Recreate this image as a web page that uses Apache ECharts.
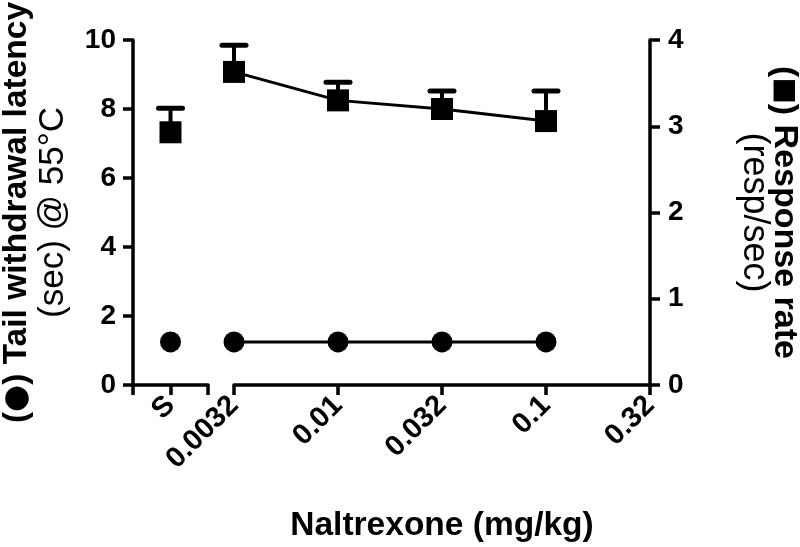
<!DOCTYPE html>
<html>
<head>
<meta charset="utf-8">
<script src="https://cdn.jsdelivr.net/npm/echarts@6/dist/echarts.min.js"></script>
<style>
html,body{margin:0;padding:0;background:#fff;}
#chart{width:800px;height:547px;}
</style>
</head>
<body>
<div id="chart"></div>
<script>
// ---- data ----
const salineCategories = ['', 'S', ''];
const doseLabels = ['0.0032', '0.01', '0.032', '0.1', '0.32'];
const salineRate = 2.93;
const salineRateErr = 0.28;
const salineLatency = 1.25;
const doseRate = [3.63, 3.30, 3.20, 3.06];
const doseRateErr = [0.31, 0.21, 0.21, 0.35];
const doseLatency = [1.25, 1.25, 1.25, 1.25];
const leftTicks = [0, 2, 4, 6, 8, 10];
const rightTicks = [0, 1, 2, 3, 4];

const FONT = '"Liberation Sans", Arial, sans-serif';
const axisLine = { show: true, lineStyle: { color: '#000', width: 3.5 } };
const axisTick = { show: true, length: 10, lineStyle: { color: '#000', width: 3.5 } };

function errRender(params, api) {
  const x = api.value(0), m = api.value(1), e = api.value(2);
  const p0 = api.coord([x, m]);
  const p1 = api.coord([x, m + e]);
  return {
    type: 'group',
    children: [
      { type: 'line', shape: { x1: p0[0], y1: p0[1], x2: p1[0], y2: p1[1] }, style: { stroke: '#000', lineWidth: 4 } },
      { type: 'line', shape: { x1: p1[0] - 12, y1: p1[1], x2: p1[0] + 12, y2: p1[1] }, style: { stroke: '#000', lineWidth: 5, lineCap: 'round' } }
    ]
  };
}

const salineIdx = salineCategories.indexOf('S');
const salineRateData = salineCategories.map((c, i) => i === salineIdx ? salineRate : '-');
const salineLatData = salineCategories.map((c, i) => i === salineIdx ? salineLatency : '-');

const xLabel = { interval: 0, rotate: 45, margin: 16, fontSize: 29, fontWeight: 'bold', color: '#000', fontFamily: FONT };

const titleRich = {
  b: { fontSize: 33.5, fontWeight: 'bold', fontFamily: FONT, color: '#000', lineHeight: 36 },
  s: { fontSize: 31, fontWeight: 'bold', fontFamily: '"DejaVu Sans", sans-serif', color: '#000', lineHeight: 36 },
  n: { fontSize: 35, fontWeight: 'normal', fontFamily: FONT, color: '#000', lineHeight: 36 }
};
const titleRichR = {
  b: { fontSize: 34, fontWeight: 'bold', fontFamily: FONT, color: '#000', lineHeight: 31 },
  s: { fontSize: 28, fontWeight: 'bold', fontFamily: '"DejaVu Sans", sans-serif', color: '#000', lineHeight: 31 },
  n: { fontSize: 36, fontWeight: 'normal', fontFamily: FONT, color: '#000', lineHeight: 31 }
};

const chart = echarts.init(document.getElementById('chart'), null, { renderer: 'canvas' });
const option = {
  backgroundColor: '#fff',
  animation: false,
  textStyle: { fontFamily: FONT, color: '#000' },
  grid: [
    { left: 133, width: 75, top: 40, bottom: 162, containLabel: false, outerBoundsMode: 'none' },
    { left: 234, right: 150, top: 40, bottom: 162, containLabel: false, outerBoundsMode: 'none' }
  ],
  xAxis: [
    {
      gridIndex: 0, type: 'category', data: salineCategories, boundaryGap: false,
      axisLine, axisTick: Object.assign({ interval: 0 }, axisTick),
      axisLabel: xLabel,
      splitLine: { show: false }
    },
    {
      gridIndex: 1, type: 'category', data: doseLabels, boundaryGap: false,
      axisLine, axisTick: Object.assign({ interval: 0 }, axisTick),
      axisLabel: xLabel,
      splitLine: { show: false },
      name: 'Naltrexone (mg/kg)', nameLocation: 'middle', nameGap: 124,
      nameTextStyle: { fontSize: 33.5, fontWeight: 'bold', color: '#000', fontFamily: FONT }
    }
  ],
  yAxis: [
    {
      gridIndex: 0, type: 'value', min: leftTicks[0], max: leftTicks[leftTicks.length - 1], interval: 2,
      position: 'left', axisLine, axisTick,
      axisLabel: { margin: 17, fontSize: 28, fontWeight: 'bold', color: '#000', fontFamily: FONT },
      splitLine: { show: false },
      name: '{b|(}{s|●}{b|) Tail withdrawal latency}\n{n|(sec) @ 55°C}',
      nameLocation: 'middle', nameRotate: 90, nameGap: 62,
      nameTextStyle: { fontFamily: FONT, color: '#000', lineHeight: 36, rich: titleRich }
    },
    { gridIndex: 0, type: 'value', min: 0, max: 4, show: false },
    { gridIndex: 1, type: 'value', min: 0, max: 10, show: false },
    {
      gridIndex: 1, type: 'value', min: rightTicks[0], max: rightTicks[rightTicks.length - 1], interval: 1,
      position: 'right', axisLine, axisTick,
      axisLabel: { margin: 18, fontSize: 28, fontWeight: 'bold', color: '#000', fontFamily: FONT },
      splitLine: { show: false },
      name: '{b|(}{s|■}{b|) Response rate}\n{n|(resp/sec)}',
      nameLocation: 'middle', nameRotate: -90, nameGap: 88,
      nameTextStyle: { fontFamily: FONT, color: '#000', lineHeight: 31, rich: titleRichR }
    }
  ],
  series: [
    // saline
    {
      type: 'custom', xAxisIndex: 0, yAxisIndex: 1, renderItem: errRender, z: 3,
      encode: { x: 0, y: 1 },
      data: [[salineIdx, salineRate, salineRateErr]]
    },
    {
      type: 'line', xAxisIndex: 0, yAxisIndex: 1, data: salineRateData,
      symbol: 'rect', symbolSize: 22, lineStyle: { width: 0 },
      itemStyle: { color: '#000' }, z: 4
    },
    {
      type: 'line', xAxisIndex: 0, yAxisIndex: 0, data: salineLatData,
      symbol: 'circle', symbolSize: 21, lineStyle: { width: 0 },
      itemStyle: { color: '#000' }, z: 4
    },
    // doses
    {
      type: 'custom', xAxisIndex: 1, yAxisIndex: 3, renderItem: errRender, z: 3,
      encode: { x: 0, y: 1 },
      data: doseRate.map((v, i) => [i, v, doseRateErr[i]])
    },
    {
      type: 'line', xAxisIndex: 1, yAxisIndex: 3, data: doseRate,
      symbol: 'rect', symbolSize: 22, lineStyle: { color: '#000', width: 3 },
      itemStyle: { color: '#000' }, z: 4
    },
    {
      type: 'line', xAxisIndex: 1, yAxisIndex: 2, data: doseLatency,
      symbol: 'circle', symbolSize: 21, lineStyle: { color: '#000', width: 3 },
      itemStyle: { color: '#000' }, z: 4
    }
  ]
};
chart.setOption(option);
</script>
</body>
</html>
